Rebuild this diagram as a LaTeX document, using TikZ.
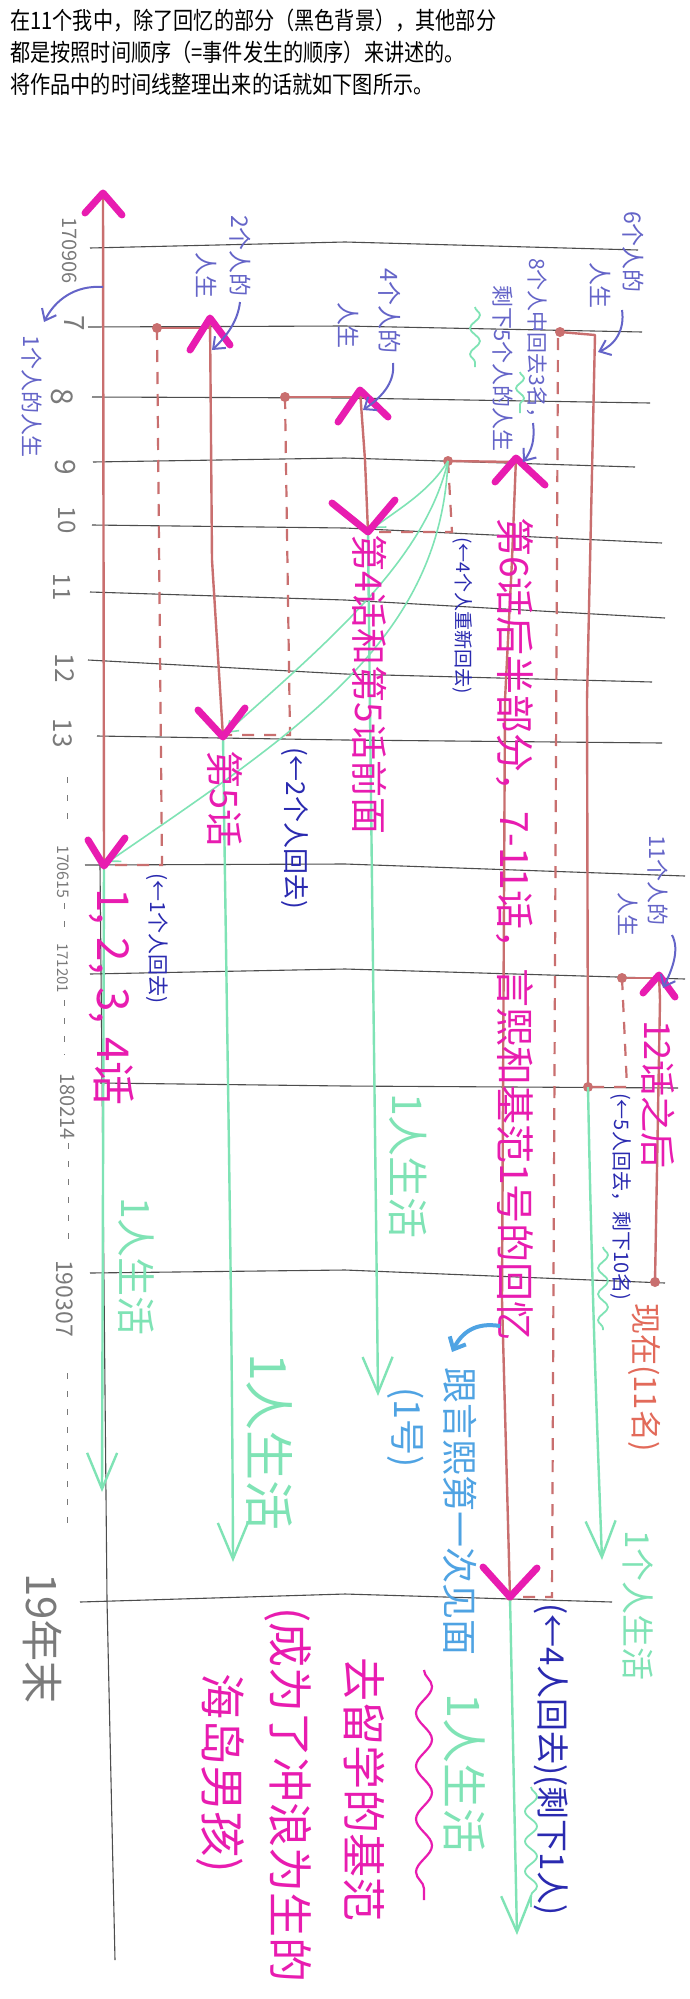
\documentclass[tikz,border=0pt]{standalone}
\usepackage{fontspec}
\setmainfont{Noto Sans CJK SC}
\newfontfamily\hdr[FakeStretch=0.84]{Noto Sans CJK SC}
\usetikzlibrary{arrows.meta,decorations.pathmorphing}
\definecolor{gridc}{HTML}{4D4D4D}
\definecolor{redc}{HTML}{C96F6F}
\definecolor{magc}{HTML}{E81CB0}
\definecolor{greenc}{HTML}{7FE3B5}
\definecolor{bluec}{HTML}{6464C8}
\definecolor{dbluec}{HTML}{2A2AB0}
\definecolor{lbluec}{HTML}{4FA3E3}
\definecolor{orangec}{HTML}{E26A5A}
\definecolor{datec}{HTML}{7A7A7A}
\newcommand\fsz[1]{\fontsize{#1}{#1}\selectfont}
\begin{document}
\begin{tikzpicture}[x=1pt,y=-1pt,
  gridline/.style={gridc, line width=1.1pt},
  redline/.style={redc, line width=2.4pt, line cap=round, line join=round},
  reddash/.style={redc, line width=2.2pt, dash pattern=on 12pt off 10pt},
  chevron/.style={magc, line width=7pt, line cap=round, line join=round},
  grnline/.style={greenc, line width=2.4pt},
  grnarrow/.style={grnline, -{Straight Barb[length=36pt,width=30pt]}},
  grnsmall/.style={greenc, line width=1.6pt, -{Straight Barb[length=10pt,width=14pt]}},
  bluearrow/.style={bluec, line width=2pt, -{Straight Barb[length=10pt,width=16pt]}},
  vtext/.style={rotate=-90, anchor=west, inner sep=0pt},
  vlabel/.style={rotate=-90, inner sep=0pt, datec},
  reddot/.style={circle, fill=redc, inner sep=0pt, minimum size=10pt},
]
\fill[white] (0,0) rectangle (690,1999);
\useasboundingbox (0,0) rectangle (690,1999);

% header
\node[anchor=base west, inner sep=0pt] (h1) at (10,30) {\hdr\fsz{24}在11个我中，除了回忆的部分（黑色背景），其他部分};
\node[anchor=base west, inner sep=0pt] (h2) at (10,62) {\hdr\fsz{24}都是按照时间顺序（=事件发生的顺序）来讲述的。};
\node[anchor=base west, inner sep=0pt] (h3) at (10,94) {\hdr\fsz{24}将作品中的时间线整理出来的话就如下图所示。};

% grid lines
\draw[gridline] (90,248) -- (345,242) -- (638,250);
\draw[gridline] (88,327) -- (345,326) -- (642,332);
\draw[gridline] (92,397) -- (345,398) -- (650,403);
\draw[gridline] (93,462) -- (345,458) -- (635,467);
\draw[gridline] (92,525) -- (345,528) -- (662,543);
\draw[gridline] (90,592) -- (345,600) -- (665,618);
\draw[gridline] (88,660) -- (345,674) -- (652,682);
\draw[gridline] (97,736) -- (345,740) -- (662,743);
\draw[gridline] (85,865) -- (345,864) -- (685,876);
\draw[gridline] (90,974) -- (345,969) -- (685,979);
\draw[gridline] (100,1083) -- (345,1086) -- (678,1088);
\draw[gridline] (90,1273) -- (345,1270) -- (665,1283);
\draw[gridline] (80,1602) -- (345,1594) -- (612,1602);
\draw[gridline] (100,865) -- (107,1600) -- (115,1960);

% date labels
\node[vlabel, anchor=west] (dt0) at (70,217) {\fsz{20}170906};
\node[vlabel] (dt7) at (74,323) {\fsz{28}7};
\node[vlabel] (dt8) at (62,397) {\fsz{30}8};
\node[vlabel] (dt9) at (65,467) {\fsz{28}9};
\node[vlabel] (dt10) at (67,520) {\fsz{24}10};
\node[vlabel] (dt11) at (62,587) {\fsz{24}11};
\node[vlabel] (dt12) at (65,668) {\fsz{26}12};
\node[vlabel] (dt13) at (63,733) {\fsz{26}13};
\node[vlabel, anchor=west] (dta) at (63,845) {\fsz{16}170615};
\node[vlabel, anchor=west] (dtb) at (63,943) {\fsz{15}171201};
\node[vlabel, anchor=west] (dtc) at (68,1073) {\fsz{20}180214};
\node[vlabel, anchor=west] (dtd) at (65,1260) {\fsz{23}190307};
\node[vlabel, anchor=west, font=\fsz{42}] (dte) at (43,1573) {19年末};
\foreach \a/\b/\c in {67/777/830, 64/903/935, 64/1000/1055, 68/1143/1240, 67/1373/1530}
  \draw[datec, line width=1pt, dash pattern=on 6pt off 12pt] (\a,\b) -- (\a,\c);

% red dots
\node[reddot] (d1) at (157,328) {};
\node[reddot] (d2) at (285,397) {};
\node[reddot] (d4) at (448,461) {};
\node[reddot] (d8) at (560,332) {};
\node[reddot] (d8b) at (588,1087) {};
\node[reddot] (d11) at (622,978) {};
\node[reddot] (d11b) at (655,1282) {};
\node[reddot, minimum size=8pt] (d6b) at (510,1597) {};

% key points
\coordinate (p1t) at (103,193);
\coordinate (p1b) at (104,866);
\coordinate (p2t) at (210,318);
\coordinate (p2b) at (223,737);
\coordinate (p4t) at (360,390);
\coordinate (p4b) at (368,532);
\coordinate (p6t) at (516,458);
\coordinate (p6b) at (510,1597);
\coordinate (p8t) at (595,335);
\coordinate (p11t) at (659,975);

% red solid lives
\draw[redline] (p1t) -- (p1b);
\draw[redline] (d1.center) -- (209,328);
\draw[redline] (p2t) -- (212,560) -- (p2b);
\draw[redline] (d2.center) -- (362,397);
\draw[redline] (p4t) -- (365,460) -- (p4b);
\draw[redline] (d4.center) -- (517,462);
\draw[redline] (p6t) -- (512,560) -- (505,700) -- (502,1300) -- (p6b);
\draw[redline] (d8.center) -- (p8t) -- (587,700) -- (d8b.center);
\draw[redline] (d11.center) -- (660,978);
\draw[redline] (p11t) -- (660,1000) -- (d11b.center);

% red dashed
\draw[reddash] (d1.center) -- (162,865) -- (108,865);
\draw[reddash] (d2.center) -- (290,735) -- (226,735);
\draw[reddash] (d4.center) -- (452,532) -- (372,532);
\draw[reddash] (558,338) -- (552,1597) -- (p6b);
\draw[reddash] (d11.center) -- (627,1087) -- (d8b.center);

% green lives
\draw[grnarrow] (p1b) -- (102,1492);
\draw[grnarrow] (p2b) .. controls (228,1100) and (232,1300) .. (233,1562);
\draw[grnarrow] (p4b) .. controls (372,900) and (376,1200) .. (378,1396);
\draw[grnarrow] (d8b.center) .. controls (592,1300) and (598,1450) .. (602,1560);
\draw[grnarrow] (p6b) -- (517,1935);
\draw[grnsmall] (d4.center) .. controls (430,490) and (405,505) .. (373,528);
\draw[grnsmall] (d4.center) .. controls (425,560) and (330,640) .. (226,733);
\draw[grnsmall] (d4.center) .. controls (440,640) and (300,730) .. (108,862);

% chevrons
\draw[chevron] (85,213) -- (p1t) -- (122,215);
\draw[chevron] (190,350) -- (p2t) -- (230,345);
\draw[chevron] (338,422) -- (p4t) -- (388,417);
\draw[chevron] (495,482) -- (p6t) -- (545,485);
\draw[chevron] (643,993) -- (p11t) -- (675,997);
\draw[chevron] (88,840) -- (p1b) -- (125,838);
\draw[chevron] (198,710) -- (p2b) -- (245,708);
\draw[chevron] (332,503) -- (p4b) -- (395,500);
\draw[chevron] (483,1567) -- (p6b) -- (537,1568);

% blue labels
\node[vtext, bluec] (t1) at (32,335) {\fsz{22}1个人的人生};
\node[vtext, bluec] (t2a) at (240,215) {\fsz{23}2个人的};
\node[vtext, bluec] (t2b) at (206,252) {\fsz{23}人生};
\node[vtext, bluec] (t4a) at (390,268) {\fsz{24}4个人的};
\node[vtext, bluec] (t4b) at (348,302) {\fsz{23}人生};
\node[vtext, bluec] (t6a) at (633,211) {\fsz{23}6个人的};
\node[vtext, bluec] (t6b) at (600,262) {\fsz{23}人生};
\node[vtext, bluec] (t8a) at (537,258) {\fsz{21}8个人中回去3名，};
\node[vtext, bluec] (t8b) at (503,285) {\fsz{22}剩下5个人的人生};
\node[vtext, bluec] (t11a) at (658,835) {\fsz{22}11个人的};
\node[vtext, bluec] (t11b) at (628,892) {\fsz{22}人生};

% blue arrows
\draw[bluearrow] (103,287) .. controls (75,285) and (55,300) .. (44,322);
\draw[bluearrow] (240,302) .. controls (238,320) and (228,335) .. (212,350);
\draw[bluearrow] (393,363) .. controls (395,380) and (385,395) .. (363,410);
\draw[bluearrow] (622,310) .. controls (625,330) and (615,345) .. (598,352);
\draw[bluearrow] (533,423) .. controls (535,440) and (532,450) .. (523,462);
\draw[bluearrow] (672,935) .. controls (680,950) and (672,970) .. (663,988);

% dark blue notes
\node[vtext, dbluec] (n1) at (157,873) {\fsz{21}(←1个人回去)};
\node[vtext, dbluec] (n2) at (295,747) {\fsz{26}(←2个人回去)};
\node[vtext, dbluec] (n4) at (463,537) {\fsz{19}(←4个人重新回去)};
\node[vtext, dbluec] (n5) at (621,1093) {\fsz{20}(←5人回去，剩下10名)};
\node[vtext, dbluec] (n6) at (551,1603) {\fsz{33}(←4人回去)(剩下1人)};

% magenta texts
\node[vtext, magc] (m1) at (112,888) {\fsz{44}1,\hspace{13pt}2,\hspace{13pt}3,\hspace{13pt}4话};
\node[vtext, magc] (m2) at (225,750) {\fsz{38}第5话};
\node[vtext, magc] (m3) at (370,534) {\fsz{37}第4话和第5话前面};
\node[vtext, magc] (m4) at (515,517) {\fsz{39}第6话后半部分，7-11话，言熙和基范1号的回忆};
\node[vtext, magc] (m5) at (658,1020) {\fsz{36}12话之后};
\node[vtext, magc] (m6) at (364,1657) {\fsz{44}去留学的基范};
\node[vtext, magc] (m7) at (288,1607) {\fsz{45}(成为了冲浪为生的};
\node[vtext, magc] (m8) at (220,1673) {\fsz{46}海岛男孩)};

% green texts
\node[vtext, greenc] (g1) at (136,1197) {\fsz{39}1人生活};
\node[vtext, greenc] (g2) at (270,1353) {\fsz{50}1人生活};
\node[vtext, greenc] (g4) at (408,1093) {\fsz{41}1人生活};
\node[vtext, greenc] (g8) at (638,1530) {\fsz{33}1个人生活};
\node[vtext, greenc] (g6) at (465,1693) {\fsz{45}1人生活};

% light blue
\node[vtext, lbluec] (lb1) at (460,1367) {\fsz{36}跟言熙第一次见面};
\node[vtext, lbluec] (lb2) at (406,1387) {\fsz{36}(1号)};
\draw[lbluec, line width=4pt, -{Straight Barb[length=10pt,width=18pt]}] (500,1326) .. controls (476,1322) and (462,1332) .. (452,1352);

% orange
\node[vtext, orangec] (o1) at (645,1303) {\fsz{31}现在(11名)};

% wavy lines
\draw[magc, line width=2.2pt, decorate, decoration={snake, amplitude=8pt, segment length=53pt}] (424,1670) -- (424,1900);
\draw[greenc, line width=1.8pt, decorate, decoration={snake, amplitude=5pt, segment length=26pt}] (603,1247) -- (603,1330);
\draw[greenc, line width=1.8pt, decorate, decoration={snake, amplitude=6pt, segment length=30pt}] (531,1787) -- (531,1907);
\draw[greenc, line width=1.8pt, decorate, decoration={snake, amplitude=5pt, segment length=26pt}] (475,307) -- (475,367);
\draw[greenc, line width=1.8pt, decorate, decoration={snake, amplitude=4pt, segment length=20pt}] (520,372) -- (520,413);
\end{tikzpicture}
\end{document}
